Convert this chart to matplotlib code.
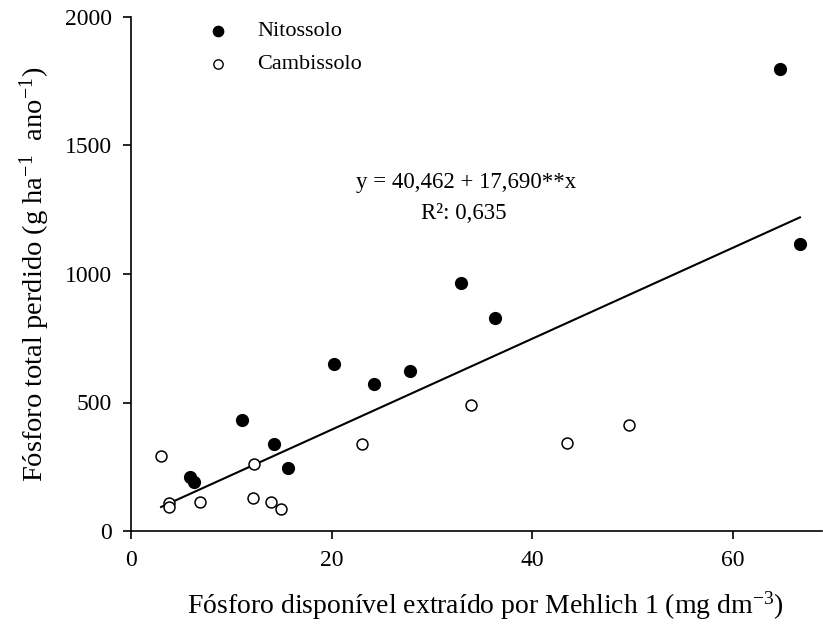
import numpy as np
import matplotlib
matplotlib.use("Agg")
import matplotlib.pyplot as plt

plt.rcParams['font.family'] = ['Liberation Serif', 'DejaVu Serif']
plt.rcParams['mathtext.fontset'] = 'custom'
plt.rcParams['mathtext.rm'] = 'Liberation Serif'
plt.rcParams['mathtext.it'] = 'Liberation Serif:italic'

# Data
nito_x = [5.85, 6.25, 11.05, 14.25, 15.7, 20.25, 24.2, 27.8, 32.9, 36.3, 64.75, 66.7]
nito_y = [209, 190, 433, 340, 247, 650, 572, 623, 965, 830, 1797, 1115]
camb_x = [3.0, 3.8, 3.8, 6.85, 12.2, 12.3, 14.0, 15.0, 23.05, 33.9, 43.45, 49.7]
camb_y = [293, 108, 92, 112, 127, 260, 112, 87, 339, 492, 343, 413]
intercept = 40.462
slope = 17.690
xticks = [0, 20, 40, 60]
yticks = [0, 500, 1000, 1500, 2000]

fig = plt.figure(figsize=(8.23, 6.31), dpi=100)
ax = fig.add_axes([131/823, 1-531/631, (822-131)/823, (531-17)/631])

ax.scatter(nito_x, nito_y, s=72, c='black', edgecolors='black', linewidths=1, zorder=3)
ax.scatter(camb_x, camb_y, s=62, facecolors='white', edgecolors='black', linewidths=1.1, zorder=3)

allx = nito_x + camb_x
lx = np.array([min(allx), max(allx)])
ax.plot(lx, intercept + slope*lx, color='black', lw=1.5, zorder=2)

ax.set_xlim(0, 68.9)
ax.set_ylim(0, 2000)
ax.set_xticks(xticks)
ax.set_yticks(yticks)
ax.spines['top'].set_visible(False)
ax.spines['right'].set_visible(False)
ax.spines['left'].set_linewidth(1.2)
ax.spines['bottom'].set_linewidth(1.2)
ax.tick_params(direction='out', length=6, width=1.2, labelsize=17, pad=8)

ax.set_xlabel('Fósforo disponível extraído por Mehlich 1 (mg dm$^{-3}$)', fontsize=20)
ax.set_ylabel('Fósforo total perdido (g ha$^{-1}$  ano$^{-1}$)', fontsize=20.5)
ax.xaxis.set_label_coords(0.512, -0.113)
ax.yaxis.set_label_coords(-0.115, 0.5)

# legend
ax.scatter([8.7], [1945], s=55, c='black', zorder=3, clip_on=False)
ax.scatter([8.7], [1817], s=45, facecolors='white', edgecolors='black', linewidths=1, zorder=3, clip_on=False)
ax.text(12.6, 1945, 'Nitossolo', fontsize=16, va='center', ha='left')
ax.text(12.6, 1817, 'Cambissolo', fontsize=16, va='center', ha='left')

ax.text(33.4, 1357, 'y = 40,462 + 17,690**x', fontsize=16.5, ha='center', va='center')
ax.text(33.2, 1237, 'R²: 0,635', fontsize=16.5, ha='center', va='center')

fig.savefig('out.png', dpi=100)
